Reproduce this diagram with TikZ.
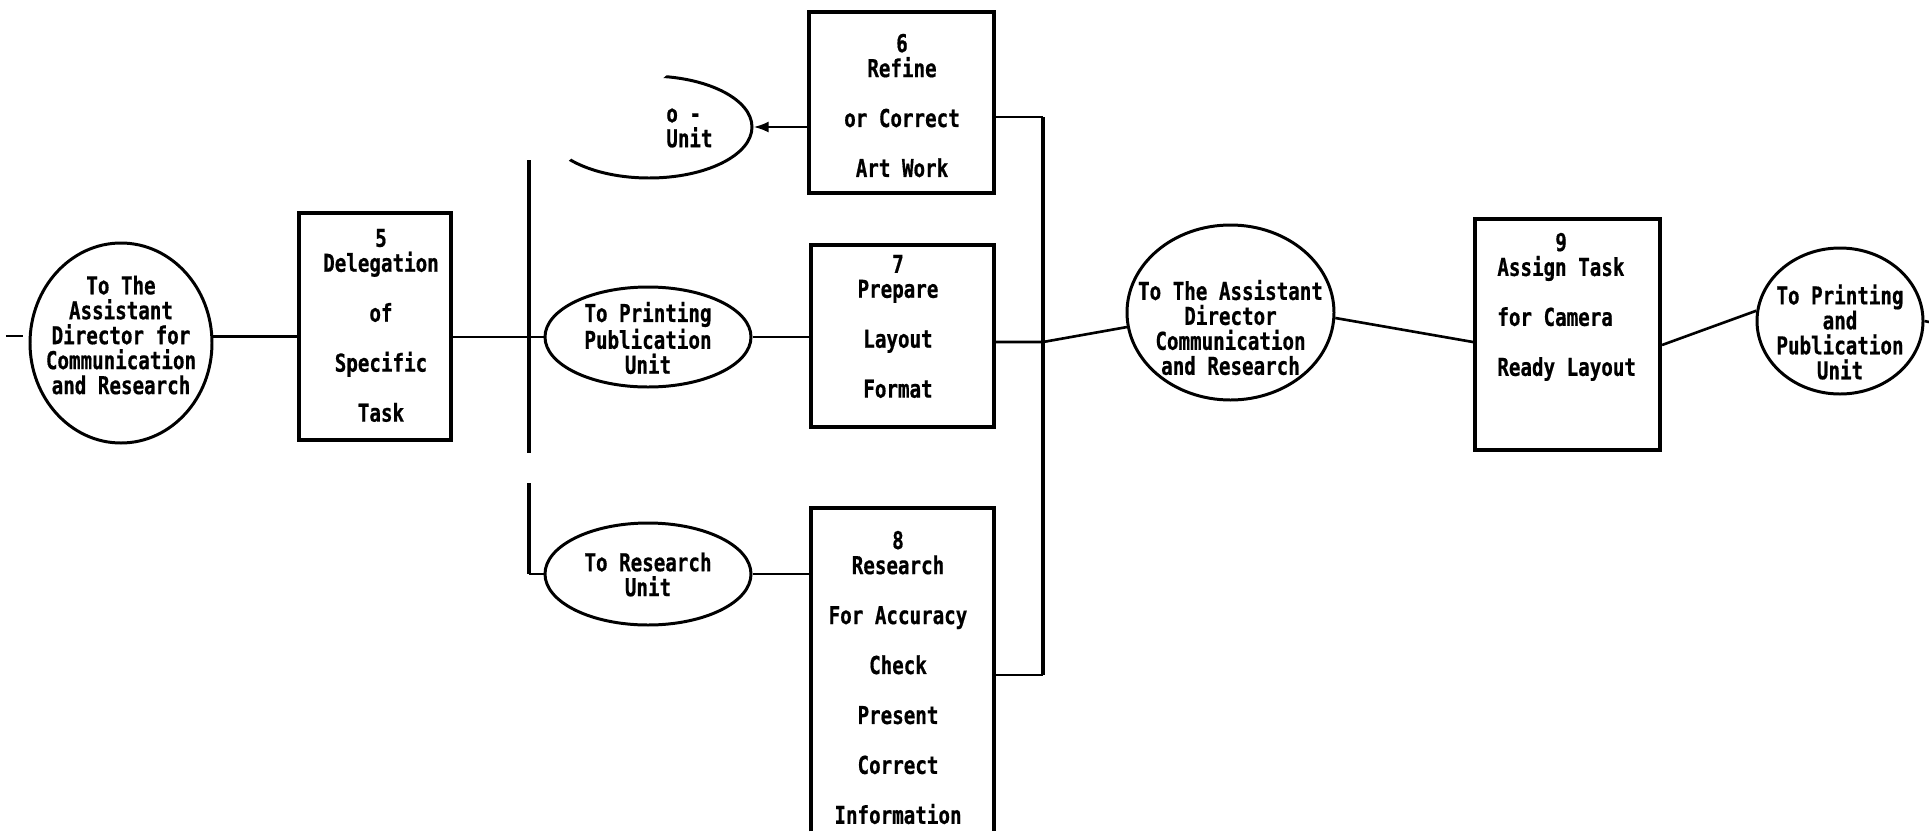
\documentclass[tikz,border=0pt]{standalone}
\usepackage{fontspec}
\usepackage{tikz}
\usetikzlibrary{shapes.geometric,arrows.meta}
\newfontfamily\chartfont[FakeStretch=0.78,FakeBold=0.6]{DejaVu Sans Mono}

\begin{document}
\begin{tikzpicture}[x=1cm,y=1cm,
  every node/.style={font=\chartfont\bfseries\fontsize{14}{14.2}\selectfont, inner sep=0pt},
  taskbox/.style={draw, line width=2.3pt},
  unitoval/.style={draw, ellipse, line width=1.7pt},
  link/.style={line width=1.5pt},
  bar/.style={line width=2.4pt}]
\useasboundingbox (0,0) rectangle (38.58,-16.62);
\node[unitoval, minimum width=3.64cm, minimum height=4.0cm] (adcr1) at (2.42,-6.86) {};
\node[align=center] (adcr1txt) at (2.42,-6.70) {To The\\Assistant\\Director for\\Communication\\and Research};
\node[taskbox, minimum width=3.04cm, minimum height=4.54cm] (box5) at (7.50,-6.53) {};
\node[align=center, anchor=north] (box5txt) at (7.62,-4.57) {5\\Delegation\\[0.5cm]of\\[0.5cm]Specific\\[0.5cm]Task};
\begin{scope}
\clip (13.68,-1.2) -- (15.6,-1.2) -- (15.6,-4.0) -- (10.48,-4.0) -- cycle;
\node[unitoval, minimum width=4.12cm, minimum height=2.04cm] (photo) at (12.98,-2.54) {};
\end{scope}
\node[align=left, anchor=west] (phototxt) at (13.32,-2.56) {o -\\Unit};
\node[unitoval, minimum width=4.12cm, minimum height=2.0cm] (pub1) at (12.96,-6.74) {};
\node[align=center] (pub1txt) at (12.96,-6.76) {To Printing\\Publication\\Unit};
\node[unitoval, minimum width=4.12cm, minimum height=2.04cm] (res) at (12.96,-11.48) {};
\node[align=center] (restxt) at (12.96,-11.49) {To Research\\Unit};
\node[taskbox, minimum width=3.70cm, minimum height=3.62cm] (box6) at (18.03,-2.05) {};
\node[align=center, anchor=north] (box6txt) at (18.04,-0.67) {6\\Refine\\[0.5cm]or Correct\\[0.5cm]Art Work};
\node[taskbox, minimum width=3.66cm, minimum height=3.64cm] (box7) at (18.05,-6.72) {};
\node[align=center, anchor=north] (box7txt) at (17.96,-5.09) {7\\Prepare\\[0.5cm]Layout\\[0.5cm]Format};
\node[minimum width=3.66cm, minimum height=6.46cm] (box8) at (18.05,-13.39) {};
\draw[line width=2.3pt] (box8.south west) |- (box8.north east) -- (box8.south east);
\node[align=center, anchor=north] (box8txt) at (17.96,-10.61) {8\\Research\\[0.5cm]For Accuracy\\[0.5cm]Check\\[0.5cm]Present\\[0.5cm]Correct\\[0.5cm]Information};
\node[unitoval, minimum width=4.14cm, minimum height=3.50cm] (adcr2) at (24.61,-6.25) {};
\node[align=center] (adcr2txt) at (24.61,-6.55) {To The Assistant\\Director\\Communication\\and Research};
\node[taskbox, minimum width=3.70cm, minimum height=4.62cm] (box9) at (31.35,-6.69) {};
\node[align=left, anchor=north west] (box9txt) at (29.94,-4.65) {\hspace*{33pt}9\\Assign Task\\[0.5cm]for Camera\\[0.5cm]Ready Layout};
\node[unitoval, minimum width=3.32cm, minimum height=2.92cm] (adcr3) at (36.80,-6.42) {};
\node[align=center] (adcr3txt) at (36.80,-6.64) {To Printing\\and\\Publication\\Unit};
\coordinate (stubA) at (0.12,-6.72);
\coordinate (stubB) at (0.46,-6.72);
\draw[link] (stubA) -- (stubB);
\draw[link] (adcr1.4) -- (adcr1.4 -| box5.west);
\coordinate (bar1top) at (10.58,-3.2);
\coordinate (bar1mid) at (10.58,-9.06);
\coordinate (bar1low) at (10.58,-9.66);
\coordinate (split1) at (10.58,-6.74);
\draw[bar] (bar1top) -- (bar1mid);
\draw[bar] (bar1low) -- (bar1low |- res.west);
\draw[link] (bar1low |- res.west) -- (res.west);
\draw[link] (box5.east |- split1) -- (split1) -- (pub1.west);
\draw[link] (pub1.east) -- (pub1.east -| box7.west);
\draw[link] (res.east) -- (res.east -| box8.west);
\draw[link, -{Latex[length=0.3cm,width=0.22cm]}] (photo.east -| box6.west) -- (photo.east);
\coordinate (bar2top) at (20.86,-2.34);
\coordinate (bar2bot) at (20.86,-13.5);
\coordinate (split2) at (20.86,-6.84);
\draw[bar] (bar2top) -- (bar2bot);
\draw[link] (box6.east |- bar2top) -- (bar2top);
\draw[link] (box7.east |- split2) -- (split2) -- (adcr2.188);
\draw[link] (box8.east |- bar2bot) -- (bar2bot);
\draw[link] (adcr2.-3) -- ([yshift=-0.15cm]box9.west);
\draw[link] ([yshift=-0.21cm]box9.east) -- (adcr3.173);
\coordinate (stubC) at (38.58,-6.44);
\draw[link] (adcr3.east) -- (stubC);
\end{tikzpicture}
\end{document}
